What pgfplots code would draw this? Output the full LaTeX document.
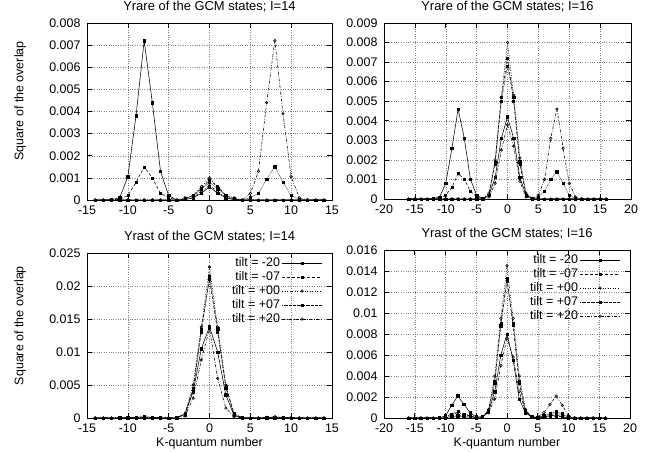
\documentclass[border=0pt]{standalone}
\usepackage{pgfplots}
\pgfplotsset{compat=1.18}
\usepackage{pgfplotstable}
\usepackage{fontspec}
\setmainfont{Liberation Sans}

% Yrare I=14
\pgfplotstableread{
K a b c d e
-14 0 0 0 0 0
-13 0 0 0 0 0
-12 0.00002 0 0 0 0
-11 0.0001 0.00003 0 0 0
-10 0.00105 0.0002 0 0 0
-9 0.0038 0.0008 0 0 0
-8 0.0072 0.0015 0 0 0
-7 0.0044 0.0010 0 0 0
-6 0.0013 0.0003 0 0 0
-5 0.0002 0.0001 0 0 0
-4 0 0 0 0 0
-3 0.00002 0.00005 0.0001 0.00005 0.00002
-2 0.0001 0.0002 0.0002 0.0002 0.0001
-1 0.0003 0.0005 0.0006 0.0005 0.0004
0 0.0006 0.0009 0.0010 0.0008 0.00065
1 0.0003 0.0006 0.0006 0.0005 0.0004
2 0.0001 0.0002 0.0002 0.0002 0.0001
3 0.00002 0.00005 0.0001 0.00005 0.00002
4 0 0 0 0 0
5 0 0 0 0.0001 0.0003
6 0 0 0 0.0003 0.0013
7 0 0 0 0.00095 0.0044
8 0 0 0 0.0015 0.0072
9 0 0 0 0.0008 0.0039
10 0 0 0 0.0002 0.00105
11 0 0 0 0.00003 0.0001
12 0 0 0 0 0.00002
13 0 0 0 0 0
14 0 0 0 0 0
}\TL

% Yrare I=16
\pgfplotstableread{
K a b c d e
-16 0 0 0 0 0
-15 0 0 0 0 0
-14 0 0 0 0 0
-13 0 0 0 0 0
-12 0.00002 0 0 0 0
-11 0.0001 0.00003 0 0 0
-10 0.0008 0.0002 0 0 0
-9 0.0026 0.0006 0 0 0
-8 0.0046 0.0013 0 0 0
-7 0.0031 0.0010 0 0 0
-6 0.0010 0.0004 0 0 0
-5 0.0002 0.0001 0 0 0
-4 0.00002 0.00002 0.00003 0.00002 0.00002
-3 0.0002 0.0002 0.0003 0.0002 0.0001
-2 0.0011 0.0019 0.0020 0.0018 0.0008
-1 0.0031 0.0052 0.0052 0.0050 0.0025
0 0.0042 0.0072 0.0080 0.0068 0.0038
1 0.0031 0.0050 0.0053 0.0052 0.0027
2 0.0011 0.0018 0.0021 0.0019 0.0009
3 0.0002 0.0002 0.0003 0.0002 0.0001
4 0.00002 0.00002 0.00003 0.00002 0.00002
5 0 0 0 0.0001 0.0002
6 0 0 0 0.0004 0.0010
7 0 0 0 0.0010 0.0031
8 0 0 0 0.0014 0.0046
9 0 0 0 0.0008 0.0026
10 0 0 0 0.0002 0.0008
11 0 0 0 0.00003 0.0001
12 0 0 0 0 0.00002
13 0 0 0 0 0
14 0 0 0 0 0
15 0 0 0 0 0
16 0 0 0 0 0
}\TR

% Yrast I=14
\pgfplotstableread{
K a b c d e
-14 0 0 0 0 0
-13 0 0 0 0 0
-12 0 0 0 0 0
-11 0.00002 0 0 0 0
-10 0.00005 0 0 0 0
-9 0.0001 0.00003 0 0 0.00002
-8 0.0002 0.00005 0.00002 0.00002 0.0001
-7 0.0001 0.00003 0 0 0.00005
-6 0.00003 0 0 0 0
-5 0 0 0 0 0
-4 0.00002 0.00003 0.00005 0.00003 0.00002
-3 0.0006 0.0007 0.0006 0.0005 0.0003
-2 0.0040 0.0045 0.0050 0.0042 0.0030
-1 0.0105 0.0135 0.0138 0.0130 0.0088
0 0.0138 0.0210 0.0229 0.0215 0.0135
1 0.0100 0.0130 0.0138 0.0135 0.0060
2 0.0035 0.0048 0.0050 0.0045 0.0015
3 0.0004 0.0007 0.0006 0.0005 0.0002
4 0.00002 0.00003 0.00005 0.00003 0.00002
5 0 0 0 0 0
6 0 0 0 0 0.00003
7 0.00005 0 0 0.00003 0.0001
8 0.0001 0.00002 0.00002 0.00005 0.0002
9 0.00002 0 0 0.00003 0.0001
10 0 0 0 0 0.00005
11 0 0 0 0 0.00002
12 0 0 0 0 0
13 0 0 0 0 0
14 0 0 0 0 0
}\BL

% Yrast I=16
\pgfplotstableread{
K a b c d e
-16 0 0 0 0 0
-15 0 0 0 0 0
-14 0 0 0 0 0
-13 0 0 0 0 0
-12 0 0 0 0 0
-11 0.00002 0 0 0 0
-10 0.0002 0.0001 0.00005 0.00002 0.00002
-9 0.0012 0.0004 0.0003 0.0001 0.0001
-8 0.0021 0.0006 0.0005 0.0002 0.0003
-7 0.0013 0.0004 0.0003 0.0001 0.0002
-6 0.0005 0.0002 0.0002 0.00005 0.0001
-5 0.0001 0.00005 0.00005 0.00002 0.00002
-4 0.0001 0.0001 0.0001 0.0001 0.0001
-3 0.0006 0.0007 0.0008 0.0007 0.0005
-2 0.0025 0.0035 0.0040 0.0033 0.0018
-1 0.0060 0.0090 0.0095 0.0088 0.0050
0 0.0080 0.0133 0.0145 0.0130 0.0076
1 0.0055 0.0088 0.0095 0.0090 0.0058
2 0.0018 0.0033 0.0040 0.0035 0.0025
3 0.0005 0.0007 0.0008 0.0007 0.0006
4 0.0001 0.0001 0.0001 0.0001 0.0001
5 0.00002 0.00002 0.00005 0.00005 0.0001
6 0.0001 0.00005 0.0002 0.0002 0.0005
7 0.0002 0.0001 0.0003 0.0004 0.0013
8 0.0003 0.0002 0.0005 0.0006 0.0021
9 0.0001 0.0001 0.0003 0.0004 0.0012
10 0.00002 0.00002 0.00005 0.0001 0.0002
11 0 0 0 0 0.00002
12 0 0 0 0 0
13 0 0 0 0 0
14 0 0 0 0 0
15 0 0 0 0 0
16 0 0 0 0 0
}\BR

\pgfplotsset{
  panel/.style={
    scale only axis,
    clip=false,
    tick align=inside,
    xtick pos=both, ytick pos=both,
    grid=major,
    major grid style={black!50, dotted, line width=0.4pt},
    axis line style={black, line width=0.6pt},
    major tick length=5bp,
    tick style={black, line width=0.6pt},
    every tick label/.append style={font=\fontsize{12.5}{14}\selectfont},
    yticklabel style={xshift=-3bp},
    xticklabel style={yshift=-2bp},
    /pgf/number format/assume math mode=true,
    scaled y ticks=false,
    yticklabel style={/pgf/number format/fixed, /pgf/number format/precision=3},
    title style={font=\fontsize{13}{15}\selectfont, at={(0.5,1)}, anchor=south, inner sep=0pt, yshift=5bp},
    label style={font=\fontsize{12.5}{14}\selectfont},
    ylabel style={at={(axis description cs:-0.273,0.56)}, anchor=center},
    xlabel style={at={(axis description cs:0.5,0)}, anchor=center, inner sep=0pt, yshift=-25bp},
    legend image code/.code={\draw[mark repeat=2,mark phase=2,##1] plot coordinates {(0cm,0cm) (0.7cm,0cm) (1.4cm,0cm)};},
    legend plot pos=right,
    legend cell align=right,
    legend style={draw=none, fill=none, at={(0.965,0.99)}, anchor=north east,
      font=\fontsize{12.5}{13}\selectfont, row sep=-0.5pt, inner sep=1pt,
      /tikz/every even column/.append style={column sep=5bp}},
  },
  sA/.style={black, line width=0.55pt, solid, mark=square*, mark size=1.2pt, mark options={solid}},
  sB/.style={black, line width=0.55pt, dash pattern=on 3pt off 2pt, mark=square*, mark size=1.0pt, mark options={solid}},
  sC/.style={black, line width=0.55pt, dash pattern=on 1pt off 1.5pt, mark=o, mark size=1.3pt, mark options={solid}},
  sD/.style={black, line width=0.55pt, dash pattern=on 0.5pt off 0.8pt, mark=square*, mark size=1.2pt, mark options={solid}},
  sE/.style={black, line width=0.55pt, dash pattern=on 3pt off 1.5pt on 0.8pt off 1.5pt, mark=o, mark size=1.3pt, mark options={solid}},
}

\begin{document}
\begin{tikzpicture}
\path[use as bounding box] (0bp,0bp) rectangle (657bp,452bp);

% top-left
\begin{axis}[panel, at={(87bp,252bp)}, anchor=south west, width=245bp, height=177bp,
  xmin=-15, xmax=15, ymin=0, ymax=0.008,
  xtick={-15,-10,-5,0,5,10,15},
  ytick={0,0.001,0.002,0.003,0.004,0.005,0.006,0.007,0.008},
  title={Yrare of the GCM states; I=14},
  ylabel={Square of the overlap}]
\addplot[sA] table[x=K,y=a]{\TL};
\addplot[sB] table[x=K,y=b]{\TL};
\addplot[sC] table[x=K,y=c]{\TL};
\addplot[sD] table[x=K,y=d]{\TL};
\addplot[sE] table[x=K,y=e]{\TL};
\end{axis}

% top-right
\begin{axis}[panel, at={(384bp,253bp)}, anchor=south west, width=247bp, height=176bp,
  xmin=-20, xmax=20, ymin=0, ymax=0.009,
  xtick={-20,-15,-10,-5,0,5,10,15,20},
  ytick={0,0.001,0.002,0.003,0.004,0.005,0.006,0.007,0.008,0.009},
  title={Yrare of the GCM states; I=16}]
\addplot[sA] table[x=K,y=a]{\TR};
\addplot[sB] table[x=K,y=b]{\TR};
\addplot[sC] table[x=K,y=c]{\TR};
\addplot[sD] table[x=K,y=d]{\TR};
\addplot[sE] table[x=K,y=e]{\TR};
\end{axis}

% bottom-left
\begin{axis}[panel, at={(87bp,34bp)}, anchor=south west, width=245bp, height=165bp,
  xmin=-15, xmax=15, ymin=0, ymax=0.025,
  xtick={-15,-10,-5,0,5,10,15},
  ytick={0,0.005,0.01,0.015,0.02,0.025},
  title={Yrast of the GCM states; I=14},
  ylabel={Square of the overlap},
  xlabel={K-quantum number}]
\addplot[sA] table[x=K,y=a]{\BL};
\addlegendentry{tilt = -20}
\addplot[sB] table[x=K,y=b]{\BL};
\addlegendentry{tilt = -07}
\addplot[sC] table[x=K,y=c]{\BL};
\addlegendentry{tilt = +00}
\addplot[sD] table[x=K,y=d]{\BL};
\addlegendentry{tilt = +07}
\addplot[sE] table[x=K,y=e]{\BL};
\addlegendentry{tilt = +20}
\end{axis}

% bottom-right
\begin{axis}[panel, at={(384bp,34bp)}, anchor=south west, width=246bp, height=168bp,
  xmin=-20, xmax=20, ymin=0, ymax=0.016,
  xtick={-20,-15,-10,-5,0,5,10,15,20},
  ytick={0,0.002,0.004,0.006,0.008,0.01,0.012,0.014,0.016},
  title={Yrast of the GCM states; I=16},
  xlabel={K-quantum number}]
\addplot[sA] table[x=K,y=a]{\BR};
\addlegendentry{tilt = -20}
\addplot[sB] table[x=K,y=b]{\BR};
\addlegendentry{tilt = -07}
\addplot[sC] table[x=K,y=c]{\BR};
\addlegendentry{tilt = +00}
\addplot[sD] table[x=K,y=d]{\BR};
\addlegendentry{tilt = +07}
\addplot[sE] table[x=K,y=e]{\BR};
\addlegendentry{tilt = +20}
\end{axis}
\end{tikzpicture}
\end{document}
